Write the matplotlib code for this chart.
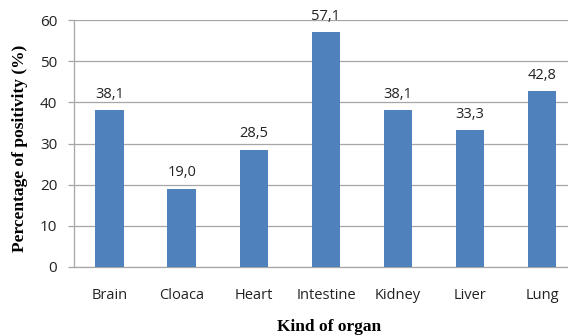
import matplotlib
matplotlib.use("Agg")
from matplotlib import pyplot as plt

organs = ["Brain", "Cloaca", "Heart", "Intestine", "Kidney", "Liver", "Lung"]
positivity = [38.1, 19.0, 28.5, 57.1, 38.1, 33.3, 42.8]
y_ticks = [0, 10, 20, 30, 40, 50, 60]

bar_color = "#4F81BD"
grid_color = "#A6A6A6"
label_font = "Open Sans"
title_font = "Liberation Serif"

fig = plt.figure(figsize=(5.68, 3.35), dpi=100)
ax = fig.add_axes([0.130, 0.203, 0.870, 0.737])

x = range(len(organs))
bars = ax.bar(x, positivity, width=0.4, color=bar_color, zorder=3)

# value labels with comma decimal separator
for bar, value in zip(bars, positivity):
    ax.annotate(f"{value:.1f}".replace(".", ","),
                (bar.get_x() + bar.get_width() / 2, value),
                xytext=(0, 6), textcoords="offset points",
                ha="center", va="bottom", fontsize=10.5,
                family=label_font, color="#222222")

ax.set_ylim(0, 60)
ax.set_yticks(y_ticks)
ax.set_xlim(-0.5, 6.36)
ax.set_xticks(list(x))
ax.set_xticklabels(organs)

ax.yaxis.grid(True, color=grid_color, linewidth=0.9, zorder=0)
for side in ["top", "right"]:
    ax.spines[side].set_visible(False)
for side in ["left", "bottom"]:
    ax.spines[side].set_color(grid_color)
    ax.spines[side].set_linewidth(0.9)

ax.tick_params(axis="y", length=4, width=0.9, color=grid_color, pad=8,
               labelsize=11)
ax.tick_params(axis="x", length=0, pad=15, labelsize=10.5)
for lab in ax.get_xticklabels() + ax.get_yticklabels():
    lab.set_family(label_font)
    lab.set_color("#222222")

ax.set_ylabel("Percentage of positivity (%)", family=title_font,
              fontweight="bold", fontsize=12.5)
ax.yaxis.set_label_coords(-0.092, 0.48)
ax.set_xlabel("Kind of organ", family=title_font, fontweight="bold",
              fontsize=12.5)
ax.xaxis.set_label_coords(0.517, -0.21)

fig.savefig("out.png", dpi=100)
